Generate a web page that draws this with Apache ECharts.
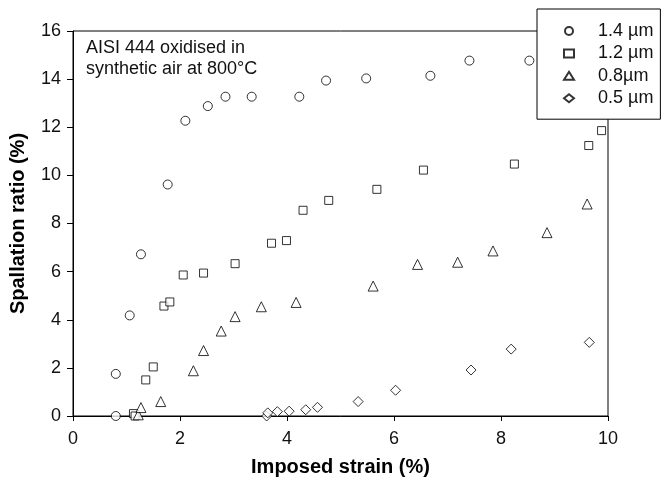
<!DOCTYPE html>
<html>
<head>
<meta charset="utf-8">
<script src="https://cdn.jsdelivr.net/npm/echarts@6/dist/echarts.min.js"></script>
<style>
  html, body { margin: 0; padding: 0; background: #fff; }
  #chart { width: 661px; height: 483px; }
</style>
</head>
<body>
<div id="chart"></div>
<script>
// Spallation ratio vs imposed strain for four oxide scale thicknesses
const seriesNames = ['1.4 µm', '1.2 µm', '0.8µm', '0.5 µm'];

const strain14 = [0.8, 0.8, 1.06, 1.27, 1.77, 2.10, 2.52, 2.85, 3.34, 4.23, 4.73, 5.48, 6.68, 7.41, 8.53];
const spall14  = [0, 1.75, 4.18, 6.72, 9.62, 12.27, 12.88, 13.27, 13.27, 13.27, 13.94, 14.03, 14.14, 14.77, 14.77];

const strain12 = [1.13, 1.16, 1.36, 1.50, 1.70, 1.81, 2.06, 2.44, 3.03, 3.71, 3.99, 4.30, 4.78, 5.68, 6.55, 8.25, 9.64, 9.88];
const spall12  = [0.1, 0, 1.50, 2.04, 4.57, 4.74, 5.86, 5.94, 6.33, 7.18, 7.29, 8.55, 8.96, 9.42, 10.22, 10.47, 11.24, 11.86];

const strain08 = [1.22, 1.27, 1.64, 2.25, 2.44, 2.77, 3.03, 3.52, 4.17, 5.61, 6.44, 7.19, 7.85, 8.86, 9.61];
const spall08  = [0.05, 0.35, 0.60, 1.88, 2.72, 3.53, 4.13, 4.54, 4.72, 5.40, 6.30, 6.39, 6.86, 7.62, 8.81];

const strain05 = [3.62, 3.64, 3.82, 4.04, 4.35, 4.57, 5.33, 6.03, 7.44, 8.19, 9.65];
const spall05  = [0, 0.13, 0.18, 0.20, 0.26, 0.36, 0.60, 1.07, 1.91, 2.78, 3.06];

const xTicks = [0, 2, 4, 6, 8, 10];
const yTicks = [0, 2, 4, 6, 8, 10, 12, 14, 16];

const FONT = '"Liberation Sans", Arial, sans-serif';

function pairs(xs, ys) {
  return xs.map((x, i) => [x, ys[i]]);
}

const markerStyle = { color: '#fff', borderColor: '#000', borderWidth: 1 };

function scatter(name, xs, ys, symbol, size) {
  return {
    name: name,
    type: 'scatter',
    symbol: symbol,
    symbolSize: size,
    data: pairs(xs, ys),
    itemStyle: markerStyle,
    emphasis: { disabled: true },
    z: 3
  };
}

const chart = echarts.init(document.getElementById('chart'), null, { renderer: 'canvas' });

chart.setOption({
  animation: false,
  backgroundColor: '#fff',
  textStyle: { fontFamily: FONT },
  title: {
    text: 'AISI 444 oxidised in\nsynthetic air at 800°C',
    left: 86,
    top: 37,
    padding: 0,
    textStyle: {
      fontFamily: FONT,
      fontSize: 18,
      fontWeight: 'normal',
      color: '#111',
      lineHeight: 21.5
    }
  },
  legend: {
    orient: 'vertical',
    left: 537,
    top: 9,
    padding: [13, 7, 12, 26],
    itemWidth: 10,
    itemHeight: 8,
    itemGap: 4.4,
    backgroundColor: '#fff',
    borderColor: '#000',
    borderWidth: 1,
    borderRadius: 0,
    z: 10,
    data: seriesNames,
    textStyle: {
      fontFamily: FONT,
      fontSize: 18,
      color: '#111',
      lineHeight: 18,
      padding: [0, 0, 0, 19]
    }
  },
  grid: {
    left: 72,
    right: 53,
    top: 31,
    bottom: 67,
    show: true,
    borderColor: '#000',
    borderWidth: 1,
    backgroundColor: 'transparent'
  },
  xAxis: {
    type: 'value',
    min: xTicks[0],
    max: xTicks[xTicks.length - 1],
    interval: xTicks[1] - xTicks[0],
    name: 'Imposed strain (%)',
    nameLocation: 'middle',
    nameGap: 41,
    nameTextStyle: { fontFamily: FONT, fontSize: 20, fontWeight: 'bold', color: '#000' },
    axisLine: { show: true, lineStyle: { color: '#000', width: 1 } },
    axisTick: { show: true, inside: false, length: 5, lineStyle: { color: '#000' } },
    axisLabel: { fontFamily: FONT, fontSize: 18, color: '#111', margin: 14 },
    splitLine: { show: false }
  },
  yAxis: {
    type: 'value',
    min: yTicks[0],
    max: yTicks[yTicks.length - 1],
    interval: yTicks[1] - yTicks[0],
    name: 'Spallation ratio (%)',
    nameLocation: 'middle',
    nameGap: 45,
    nameRotate: 90,
    nameTextStyle: { fontFamily: FONT, fontSize: 20, fontWeight: 'bold', color: '#000' },
    axisLine: { show: true, lineStyle: { color: '#000', width: 1 } },
    axisTick: { show: true, inside: false, length: 6, lineStyle: { color: '#000' } },
    axisLabel: { fontFamily: FONT, fontSize: 18, color: '#111', margin: 12 },
    splitLine: { show: false }
  },
  series: [
    scatter(seriesNames[0], strain14, spall14, 'circle', 9),
    scatter(seriesNames[1], strain12, spall12, 'rect', 8),
    scatter(seriesNames[2], strain08, spall08, 'triangle', 10),
    scatter(seriesNames[3], strain05, spall05, 'diamond', 10)
  ]
});
</script>
</body>
</html>
